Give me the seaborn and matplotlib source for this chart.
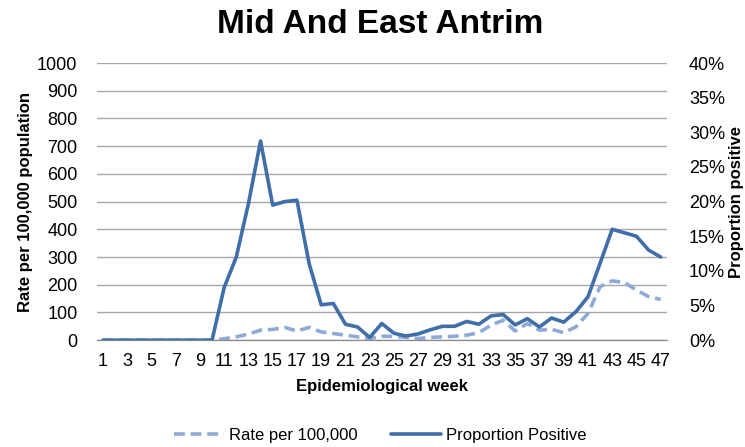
import numpy as np
import pandas as pd
import matplotlib
matplotlib.use("Agg")
import matplotlib.pyplot as plt
from matplotlib.ticker import PercentFormatter, FixedLocator
from matplotlib.lines import Line2D
import seaborn as sns

weeks = list(range(1, 48))

# rate per 100,000 population (left axis)
rate = [0, 0, 0, 0, 0, 0, 0, 0, 0, 0,
        5, 12, 22, 36, 39, 46, 33, 46, 30, 24,
        18, 12, 6, 14, 14, 10, 6, 10, 12, 14,
        18, 27, 54, 72, 33, 60, 36, 39, 27, 48,
        96, 193, 214, 208, 181, 157, 147]

# proportion positive (right axis), in %
proportion = [0, 0, 0, 0, 0, 0, 0, 0, 0, 0,
              7.6, 12.0, 19.7, 28.75, 19.5, 20.0, 20.2, 11.1, 5.1, 5.3,
              2.3, 1.9, 0.4, 2.4, 1.0, 0.6, 0.9, 1.5, 2.0, 2.0,
              2.7, 2.3, 3.5, 3.7, 2.2, 3.1, 1.9, 3.2, 2.6, 4.1,
              6.25, 11.1, 16.0, 15.5, 15.0, 13.0, 12.0]

df = pd.DataFrame({"week": weeks, "rate": rate,
                   "proportion": np.array(proportion) / 100})

sns.set_style("white")
plt.rcParams["font.family"] = ["Liberation Sans", "DejaVu Sans"]
for k in ("text.color", "axes.labelcolor", "xtick.color", "ytick.color"):
    plt.rcParams[k] = "black"

solid_col = "#3F6EA9"
dash_col = "#8FAAD6"

fig = plt.figure(figsize=(7.45, 4.47), dpi=100)
ax = fig.add_axes([0.130, 0.239, 0.765, 0.620])
ax2 = ax.twinx()

sns.lineplot(data=df, x="week", y="rate", ax=ax, color=dash_col,
             linewidth=2.6, linestyle=(0, (3, 1.6)))
sns.lineplot(data=df, x="week", y="proportion", ax=ax2, color=solid_col,
             linewidth=2.6)

ax.set_ylim(0, 1000)
ax.set_yticks(range(0, 1001, 100))
ax2.set_ylim(0, 0.40)
ax2.set_yticks(np.arange(0, 0.401, 0.05))
ax2.yaxis.set_major_formatter(PercentFormatter(1.0, decimals=0))

ax.set_xlim(0.5, 47.5)
ax.set_xticks(weeks[::2])
ax.xaxis.set_minor_locator(FixedLocator(np.arange(0.5, 48, 1)))
ax.tick_params(axis="x", which="major", length=0, labelsize=13, pad=9)
ax.tick_params(axis="x", which="minor", length=4, color="#888888", width=0.8)
ax.tick_params(axis="y", length=0, labelsize=13, pad=14)
ax2.tick_params(axis="y", length=0, labelsize=13, pad=16)

ax.grid(axis="y", color="#A6A6A6", linewidth=1)
ax.set_axisbelow(True)
for a in (ax, ax2):
    for s in ("top", "left", "right"):
        a.spines[s].set_visible(False)
    a.spines["bottom"].set_color("#888888")

ax.set_xlabel("Epidemiological week", fontsize=12, fontweight="bold", labelpad=7)
ax.set_ylabel("Rate per 100,000 population", fontsize=12, fontweight="bold", labelpad=3)
ax2.set_ylabel("Proportion positive", fontsize=12, fontweight="bold", labelpad=3)

fig.suptitle("Mid And East Antrim", fontsize=24, fontweight="bold", x=0.51, y=0.98)

handles = [Line2D([], [], color=dash_col, linewidth=2.6, linestyle=(0, (3, 1.6))),
           Line2D([], [], color=solid_col, linewidth=2.6)]
fig.legend(handles, ["Rate per 100,000", "Proportion Positive"], loc="lower center",
           bbox_to_anchor=(0.51, -0.025), ncol=2, frameon=False, fontsize=12,
           handlelength=3, columnspacing=2.0, handletextpad=0.3)

fig.savefig("out.png", dpi=100)
